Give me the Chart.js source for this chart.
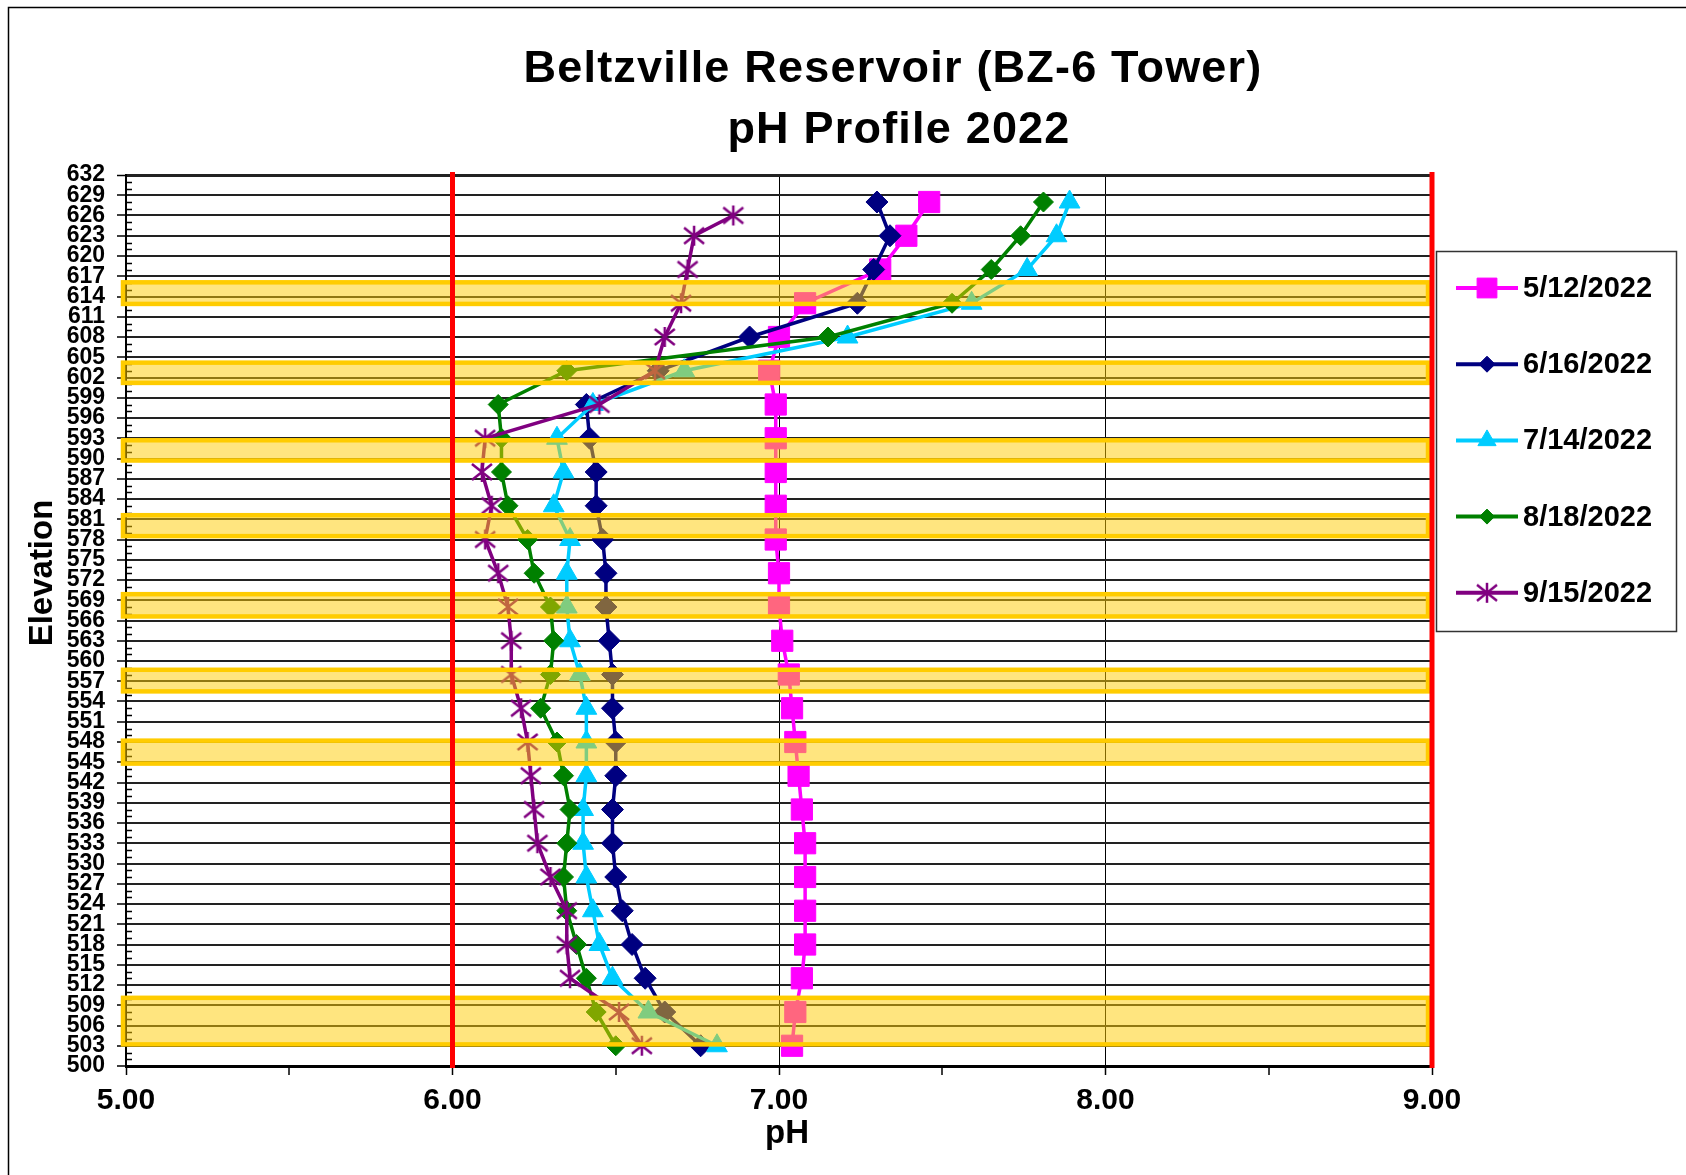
<!DOCTYPE html>
<html>
<head>
<meta charset="utf-8">
<title>Beltzville Reservoir (BZ-6 Tower) pH Profile 2022</title>
<script src="https://cdn.jsdelivr.net/npm/chart.js@4.4.1/dist/chart.umd.min.js"></script>
<style>
  html, body { margin: 0; padding: 0; background: #fff; }
  canvas { display: block; }
</style>
</head>
<body>
<canvas id="phChart" width="1686" height="1175"></canvas>
<script>
// Sampling elevations (ft)
const elevations = [628, 623, 618, 613, 608, 603, 598, 593, 588, 583, 578, 573, 568, 563, 558, 553, 548, 543, 538, 533, 528, 523, 518, 513, 508, 503];
const elevationsSep = [626, 623, 618, 613, 608, 603, 598, 593, 588, 583, 578, 573, 568, 563, 558, 553, 548, 543, 538, 533, 528, 523, 518, 513, 508, 503];

// pH readings, top to bottom
const phMay = [7.46, 7.39, 7.31, 7.08, 7.00, 6.97, 6.99, 6.99, 6.99, 6.99, 6.99, 7.00, 7.00, 7.01, 7.03, 7.04, 7.05, 7.06, 7.07, 7.08, 7.08, 7.08, 7.08, 7.07, 7.05, 7.04];
const phJun = [7.30, 7.34, 7.29, 7.24, 6.91, 6.63, 6.41, 6.42, 6.44, 6.44, 6.46, 6.47, 6.47, 6.48, 6.49, 6.49, 6.50, 6.50, 6.49, 6.49, 6.50, 6.52, 6.55, 6.59, 6.65, 6.76];
const phJul = [7.89, 7.85, 7.76, 7.59, 7.21, 6.71, 6.43, 6.32, 6.34, 6.31, 6.36, 6.35, 6.35, 6.36, 6.39, 6.41, 6.41, 6.41, 6.40, 6.40, 6.41, 6.43, 6.45, 6.49, 6.60, 6.81];
const phAug = [7.81, 7.74, 7.65, 7.53, 7.15, 6.35, 6.14, 6.15, 6.15, 6.17, 6.23, 6.25, 6.30, 6.31, 6.30, 6.27, 6.32, 6.34, 6.36, 6.35, 6.34, 6.35, 6.38, 6.41, 6.44, 6.50];
const phSep = [6.86, 6.74, 6.72, 6.70, 6.65, 6.62, 6.45, 6.10, 6.09, 6.12, 6.10, 6.14, 6.17, 6.18, 6.18, 6.21, 6.23, 6.24, 6.25, 6.26, 6.30, 6.35, 6.35, 6.36, 6.51, 6.58];

const seriesLabels = ["5/12/2022", "6/16/2022", "7/14/2022", "8/18/2022", "9/15/2022"];

// axis ranges
const elevRange = [500, 632], elevStep = 3;
const phRange = [5, 9], phStep = 1;

// highlighted depth bands [low, high] and red pH limits
const bands = [[612.9, 616.1], [601.2, 604.2], [589.7, 592.7], [578.5, 581.6], [566.6, 569.9], [555.5, 558.7], [544.8, 548.2], [503.2, 510.1]];
const limitPH = [6, 9];

const FONT = "'Liberation Sans', Arial, sans-serif";
Chart.defaults.font.family = FONT;
Chart.defaults.color = "#000";

// Excel style star marker: X with a vertical bar
function starMarker(color, size) {
  const c = document.createElement("canvas");
  c.width = c.height = size;
  const g = c.getContext("2d");
  const m = size / 2;
  g.strokeStyle = color; g.lineWidth = 2.5;
  g.beginPath();
  g.moveTo(m - 10, m - 8); g.lineTo(m + 10, m + 8);
  g.moveTo(m + 10, m - 8); g.lineTo(m - 10, m + 8);
  g.moveTo(m, m - 10); g.lineTo(m, m + 10);
  g.stroke();
  return c;
}
const star = starMarker("#800080", 24);

const pts = (ph, el) => ph.map((v, i) => ({ x: v, y: el[i] }));
const looks = [
  { color: "#FF00FF", style: "rect", r: 15, lr: 14 },
  { color: "#000080", style: "rectRot", r: 11, lr: 8 },
  { color: "#00CCFF", style: "triangle", r: 12, lr: 10.5 },
  { color: "#008000", style: "rectRot", r: 10, lr: 7.5 },
  { color: "#800080", style: star, r: 11, lr: 11 }
];
const series = [pts(phMay, elevations), pts(phJun, elevations), pts(phJul, elevations), pts(phAug, elevations), pts(phSep, elevationsSep)];

const datasets = series.map((d, i) => ({
  label: seriesLabels[i],
  data: d,
  showLine: true,
  tension: 0,
  borderColor: looks[i].color,
  backgroundColor: looks[i].color,
  borderWidth: 3.5,
  pointStyle: looks[i].style,
  pointRadius: looks[i].r,
  pointBackgroundColor: looks[i].color,
  pointBorderColor: looks[i].color,
  pointBorderWidth: 1,
  order: 5 - i,
  clip: false
}));

// white page + outer frame
const framePlugin = {
  id: "frame",
  beforeDraw(chart) {
    const ctx = chart.ctx;
    ctx.save();
    ctx.fillStyle = "#fff";
    ctx.fillRect(0, 0, chart.width, chart.height);
    ctx.strokeStyle = "#000"; ctx.lineWidth = 1.5;
    ctx.strokeRect(8.5, 7.5, 2000, 2000);
    ctx.restore();
  }
};

// inside minor ticks on the elevation axis
const minorTicks = {
  id: "minorTicks",
  beforeDatasetsDraw(chart) {
    const { ctx, scales: { y } } = chart;
    const x0 = chart.chartArea.left;
    ctx.save();
    ctx.strokeStyle = "#000"; ctx.lineWidth = 1.5;
    ctx.beginPath();
    for (let v = elevRange[0]; v <= elevRange[1]; v++) {
      if ((v - elevRange[0]) % elevStep === 0) continue;
      const py = Math.round(y.getPixelForValue(v)) + 0.5;
      ctx.moveTo(x0, py); ctx.lineTo(x0 + 6, py);
    }
    ctx.stroke();
    ctx.restore();
  }
};

// yellow bands over the data, then the red limit lines
const overlays = {
  id: "overlays",
  afterDatasetsDraw(chart) {
    const { ctx, scales: { x, y } } = chart;
    ctx.save();
    const left = x.getPixelForValue(phRange[0]) - 3;
    const right = x.getPixelForValue(phRange[1]) - 4;
    bands.forEach(([lo, hi]) => {
      const top = y.getPixelForValue(hi), bot = y.getPixelForValue(lo);
      ctx.fillStyle = "rgba(255,204,0,0.5)";
      ctx.fillRect(left, top, right - left, bot - top);
      ctx.strokeStyle = "#FFCC00"; ctx.lineWidth = 4.5;
      ctx.strokeRect(left, top, right - left, bot - top);
    });
    ctx.strokeStyle = "#FF0000"; ctx.lineWidth = 5;
    limitPH.forEach(v => {
      const px = x.getPixelForValue(v);
      ctx.beginPath();
      ctx.moveTo(px, y.getPixelForValue(elevRange[1]) - 3);
      ctx.lineTo(px, y.getPixelForValue(elevRange[0]) + 2);
      ctx.stroke();
    });
    ctx.restore();
  }
};

// title, axis names and boxed legend
const textPlugin = {
  id: "texts",
  afterDraw(chart) {
    const ctx = chart.ctx;
    ctx.save();
    ctx.fillStyle = "#000";
    ctx.textAlign = "center"; ctx.textBaseline = "middle";
    ctx.font = "bold 45px " + FONT;
    if ("letterSpacing" in ctx) ctx.letterSpacing = "1.2px";
    ctx.fillText("Beltzville Reservoir (BZ-6 Tower)", 893, 70);
    ctx.fillText("pH Profile 2022", 899, 131);
    if ("letterSpacing" in ctx) ctx.letterSpacing = "0px";

    ctx.font = "bold 33px " + FONT;
    ctx.fillText("pH", 787, 1134);

    ctx.save();
    ctx.translate(43, 573); ctx.rotate(-Math.PI / 2);
    ctx.fillText("Elevation", 0, 0);
    ctx.restore();

    // legend
    ctx.strokeStyle = "#333"; ctx.lineWidth = 1.5;
    ctx.strokeRect(1436.5, 251.5, 240, 380);
    ctx.textAlign = "left";
    ctx.font = "bold 29px " + FONT;
    chart.data.datasets.forEach((ds, i) => {
      const ly = 288 + i * 76.2;
      ctx.strokeStyle = ds.borderColor; ctx.lineWidth = 4;
      ctx.beginPath(); ctx.moveTo(1456, ly); ctx.lineTo(1518, ly); ctx.stroke();
      ctx.fillStyle = ds.borderColor; ctx.lineWidth = 1;
      Chart.helpers.drawPoint(ctx, { pointStyle: ds.pointStyle, radius: looks[i].lr, rotation: 0, borderWidth: 1 }, 1487, ly);
      ctx.fillStyle = "#000";
      ctx.fillText(ds.label, 1523, ly + 1);
    });
    ctx.restore();
  }
};

new Chart(document.getElementById("phChart"), {
  type: "scatter",
  data: { datasets },
  plugins: [framePlugin, minorTicks, overlays, textPlugin],
  options: {
    responsive: false,
    devicePixelRatio: 1,
    animation: false,
    layout: { padding: { top: 175, right: 254, bottom: 0, left: 0 } },
    plugins: { legend: { display: false }, tooltip: { enabled: false } },
    scales: {
      x: {
        type: "linear",
        min: phRange[0], max: phRange[1],
        afterFit: s => { s.height = 109; },
        border: { color: "#000", width: 3 },
        grid: {
          color: c => Number.isInteger(c.tick.value) ? "#000" : "transparent",
          lineWidth: c => Number.isInteger(c.tick.value) ? 1 : 0,
          tickColor: "#000", tickWidth: 1.5, tickLength: 9
        },
        ticks: {
          stepSize: phStep / 2,
          autoSkip: false, maxRotation: 0, padding: 8,
          font: { size: 30, weight: "bold" },
          callback: v => Number.isInteger(v) ? v.toFixed(2) : ""
        }
      },
      y: {
        type: "linear",
        min: elevRange[0], max: elevRange[1],
        afterFit: s => { s.width = 126; },
        border: { color: "#000", width: 2 },
        grid: {
          color: "#222",
          lineWidth: c => c.tick.value === elevRange[1] ? 3 : 2,
          tickColor: "#000", tickWidth: 1.5, tickLength: 9
        },
        ticks: {
          stepSize: elevStep,
          autoSkip: false, padding: 12,
          font: { size: 23, weight: "bold" }
        }
      }
    }
  }
});
</script>
</body>
</html>
